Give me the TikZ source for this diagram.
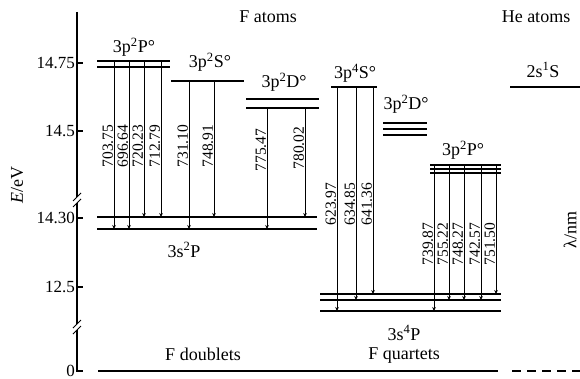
\documentclass[tikz,border=0pt]{standalone}
\usepackage{fontspec}
\setmainfont{Liberation Serif}
\usetikzlibrary{arrows.meta}
\begin{document}
\begin{tikzpicture}[x=1pt,y=-1pt,
  lvl/.style={line width=1.4pt},
  axis/.style={line width=1.2pt},
  tr/.style={line width=1pt,-{Stealth[length=4pt,width=3.6pt]}},
  lab/.style={font=\rmfamily\fontsize{18}{18}\selectfont, inner sep=0pt},
  tick/.style={font=\rmfamily\fontsize{17}{17}\selectfont, inner sep=0pt, anchor=east},
  wl/.style={font=\rmfamily\fontsize{15.5}{15.5}\selectfont, rotate=90, anchor=south, inner sep=0.8pt},
]
\useasboundingbox (0,0) rectangle (580,379);
% axis
\draw[axis] (77,12) -- (77,197);
\draw[axis] (77,203) -- (77,324);
\draw[axis] (77,330) -- (77,371) -- (83,371);
\draw[line width=0.9pt] (73,201) -- (81,193) (73,207) -- (81,199);
\draw[line width=0.9pt] (73,328) -- (81,320) (73,334) -- (81,326);
\foreach \y/\t in {63/14.75,131/14.5,218/14.30,287/12.5}{
  \draw[axis] (77,\y) -- (83,\y);
  \node[tick] (tk\y) at (75,\y) {\t};
}
\node[tick] (tk0) at (75,371) {0};
\node[lab,rotate=90] (ylab) at (17,185) {\textit{E}/eV};
\node[lab,rotate=90] (xlab) at (570,230) {λ/nm};
\node[lab] (fat) at (268,17) {F atoms};
\node[lab] (heat) at (536,17) {He atoms};
% levels: F doublets
\draw[lvl] (97,61) -- (170,61) (97,67) -- (170,67);
\node[lab] (l1) at (134,47) {3p\textsuperscript{2}P°};
\draw[lvl] (171,81) -- (244,81);
\node[lab] (l2) at (210,62) {3p\textsuperscript{2}S°};
\draw[lvl] (246,99) -- (319,99) (246,108) -- (319,108);
\node[lab] (l3) at (284,82) {3p\textsuperscript{2}D°};
\draw[lvl] (97,217) -- (317,217) (97,229) -- (317,229);
\node[lab] (l4) at (184,250) {3s\textsuperscript{2}P};
% levels: F quartets
\draw[lvl] (331,87) -- (377,87);
\node[lab] (l5) at (355,73) {3p\textsuperscript{4}S°};
\draw[lvl] (383,123) -- (427,123) (383,129) -- (427,129) (383,135) -- (427,135);
\node[lab] (l6) at (406,104) {3p\textsuperscript{2}D°};
\draw[lvl] (430,165) -- (501,165) (430,169) -- (501,169) (430,173) -- (501,173);
\node[lab] (l7) at (463,150) {3p\textsuperscript{2}P°};
\draw[lvl] (320,294) -- (501,294) (320,300) -- (501,300) (320,311) -- (501,311);
\node[lab] (l8) at (404,333) {3s\textsuperscript{4}P};
% He
\draw[lvl] (510,87) -- (580,87);
\node[lab] (l9) at (543,70) {2s\textsuperscript{1}S};
% ground
\draw[lvl] (98,371) -- (498,371);
\draw[lvl,dashed,dash pattern=on 9pt off 6pt] (512,371) -- (580,371);
\node[lab] (fd) at (203,354) {F doublets};
\node[lab] (fq) at (404,356) {F quartets};
% transitions doublets
\foreach \x/\a/\b in {114/61/229,129/61/229,144/61/217,161/61/217,
  189/81/229,214/81/217,267/108/229,305/108/217}{
  \draw[tr] (\x,\a) -- (\x,\b);
}
\foreach \x/\t in {114/703.75,129/696.64,144/720.23,161/712.79,189/731.10,214/748.91}{
  \node[wl] (w\x) at (\x,146) {\t};
}
\node[wl] (w267) at (267,150) {775.47};
\node[wl] (w305) at (305,148) {780.02};
% transitions quartets
\foreach \x/\a/\b in {337/87/311,356/87/300,373/87/294,434/165/311,449/165/300,464/165/300,481/165/300,496/165/294}{
  \draw[tr] (\x,\a) -- (\x,\b);
}
\foreach \x/\t in {337/623.97,356/634.85,373/641.36}{
  \node[wl] (w\x) at (\x,204) {\t};
}
\foreach \x/\t in {434/739.87,449/755.22,464/748.27,481/742.57,496/751.50}{
  \node[wl] (w\x) at (\x,244) {\t};
}
\end{tikzpicture}
\end{document}
